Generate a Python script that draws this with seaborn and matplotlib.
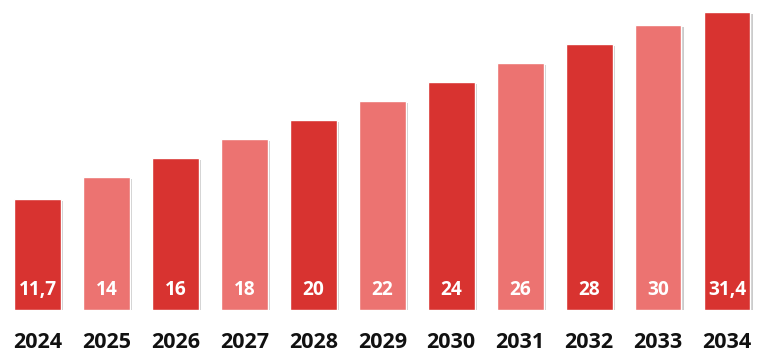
import pandas as pd
import matplotlib.pyplot as plt
import matplotlib.patheffects as pe
import seaborn as sns

years = ['2024', '2025', '2026', '2027', '2028', '2029', '2030', '2031', '2032', '2033', '2034']
values = [11.7, 14, 16, 18, 20, 22, 24, 26, 28, 30, 31.4]
labels = ['11,7', '14', '16', '18', '20', '22', '24', '26', '28', '30', '31,4']

dark = '#D83330'
light = '#EC7371'
colors = [dark if i % 2 == 0 else light for i in range(len(years))]

df = pd.DataFrame({'year': years, 'value': values})

sns.set_style('white')
plt.rcParams['font.family'] = ['Open Sans', 'DejaVu Sans']

fig = plt.figure(figsize=(7.64, 3.56), dpi=100)
ax = fig.add_axes([0, 46 / 356, 1, 310 / 356])

sns.barplot(data=df, x='year', y='value', hue='year', palette=colors,
            width=0.68, legend=False, saturation=1, ax=ax)

# leichter Schatten rechts unten
for bar in ax.patches:
    bar.set_path_effects([pe.SimplePatchShadow(offset=(1.5, -1.5), shadow_rgbFace='#999999', alpha=0.5),
                          pe.Normal()])

for i, lab in enumerate(labels):
    ax.text(i, 2.1, lab, ha='center', va='center', color='white',
            fontsize=13.8, fontweight='bold')

ax.set_xlim(-0.544, 10.537)
ax.set_ylim(0, 32.67)
ax.set_xlabel('')
ax.set_ylabel('')
ax.set_yticks([])
ax.tick_params(axis='x', length=0, pad=15.5)
for t in ax.get_xticklabels():
    t.set_fontsize(15.5)
    t.set_fontweight('bold')
    t.set_color('#111111')
sns.despine(left=True, bottom=True)

plt.savefig('out.png', dpi=100)
